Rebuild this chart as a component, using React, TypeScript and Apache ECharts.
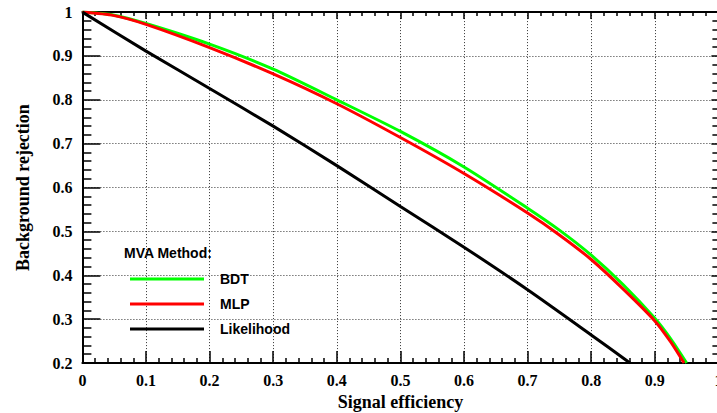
import React, { useEffect, useRef } from "react";
import * as echarts from "echarts";

const seriesNames = ["BDT", "MLP", "Likelihood"];
const seriesColors = ["#00ff00", "#ff0000", "#000000"];

const bdtEff = [0, 0.05, 0.1, 0.2, 0.3, 0.4, 0.5, 0.6, 0.7, 0.75, 0.8, 0.85, 0.9, 0.925, 0.95];
const bdtRej = [1, 0.993, 0.974, 0.927, 0.87, 0.8, 0.728, 0.647, 0.553, 0.503, 0.446, 0.379, 0.302, 0.255, 0.2];

const mlpEff = [0, 0.05, 0.1, 0.2, 0.3, 0.4, 0.5, 0.6, 0.7, 0.75, 0.8, 0.85, 0.9, 0.925, 0.946];
const mlpRej = [1, 0.992, 0.972, 0.919, 0.859, 0.791, 0.714, 0.632, 0.542, 0.492, 0.436, 0.369, 0.296, 0.248, 0.2];

const likEff = [0, 0.1, 0.2, 0.3, 0.4, 0.5, 0.6, 0.7, 0.8, 0.861];
const likRej = [1, 0.911, 0.826, 0.74, 0.65, 0.557, 0.464, 0.367, 0.264, 0.2];

const xTickLabels = ["0", "0.1", "0.2", "0.3", "0.4", "0.5", "0.6", "0.7", "0.8", "0.9", "1"];
const yTickLabels = ["0.2", "0.3", "0.4", "0.5", "0.6", "0.7", "0.8", "0.9", "1"];

const xTitle = "Signal efficiency";
const yTitle = "Background rejection";
const legendTitle = "MVA Method:";

const serif = "Liberation Serif";
const sans = "Liberation Sans";

function pairs(xs: number[], ys: number[]) {
  return xs.map((x, i) => [x, ys[i]]);
}

export default function App() {
  const ref = useRef<HTMLDivElement>(null);
  useEffect(() => {
    const chart = echarts.init(ref.current!, null, { renderer: "svg" });
    const tickLine = { color: "#000", width: 1.5 };
    const axisLine = { show: true, onZero: false, lineStyle: { color: "#000", width: 2 } };
    const labelStyle = { color: "#000", fontFamily: serif, fontWeight: "bold", fontSize: 16 };
    const titleStyle = { color: "#000", fontFamily: serif, fontWeight: "bold", fontSize: 18 };
    const dataSets = [pairs(bdtEff, bdtRej), pairs(mlpEff, mlpRej), pairs(likEff, likRej)];

    chart.setOption({
      animation: false,
      backgroundColor: "#ffffff",
      grid: {
        left: 82.4,
        right: -1.4,
        top: 12.1,
        bottom: 50,
        containLabel: false,
        outerBoundsMode: "none",
      },
      legend: {
        show: true,
        data: seriesNames,
        orient: "vertical",
        left: 125,
        top: 267,
        padding: 5,
        itemGap: 11,
        itemWidth: 74,
        itemHeight: 3,
        icon: "rect",
        selectedMode: false,
        textStyle: {
          color: "#000",
          fontFamily: sans,
          fontWeight: "bold",
          fontSize: 14,
          lineHeight: 14,
          padding: [0, 0, 0, 11],
        },
      },
      graphic: [
        {
          type: "text",
          left: 124,
          top: 246,
          style: { text: legendTitle, fill: "#000", font: `bold 14px "${sans}"` },
        },
      ],
      xAxis: [
        {
          type: "value",
          position: "bottom",
          min: 0,
          max: 1,
          interval: 0.1,
          axisLine,
          axisTick: { show: true, inside: true, length: 12, lineStyle: tickLine },
          minorTick: { show: true, splitNumber: 5, length: 5, lineStyle: tickLine },
          splitLine: { show: true, lineStyle: { color: "#333", type: [1, 2], width: 1 } },
          axisLabel: {
            ...labelStyle,
            margin: 9,
            showMinLabel: true,
            showMaxLabel: true,
            hideOverlap: false,
            formatter: (_v: number, i: number) => xTickLabels[i] ?? "",
          },
          name: xTitle,
          nameLocation: "middle",
          nameGap: 30,
          nameTextStyle: titleStyle,
        },
        {
          type: "value",
          position: "top",
          min: 0,
          max: 1,
          interval: 0.1,
          axisLine,
          axisTick: { show: true, inside: true, length: 7, lineStyle: tickLine },
          minorTick: { show: true, splitNumber: 5, length: 4, lineStyle: tickLine },
          splitLine: { show: false },
          axisLabel: { show: false },
        },
      ],
      yAxis: [
        {
          type: "value",
          position: "left",
          min: 0.2,
          max: 1,
          interval: 0.1,
          axisLine,
          axisTick: { show: true, inside: true, length: 18, lineStyle: tickLine },
          minorTick: { show: true, splitNumber: 5, length: 9, lineStyle: tickLine },
          splitLine: { show: true, lineStyle: { color: "#333", type: [1, 2], width: 1 } },
          axisLabel: {
            ...labelStyle,
            margin: 10,
            showMinLabel: true,
            showMaxLabel: true,
            formatter: (_v: number, i: number) => yTickLabels[i] ?? "",
          },
          name: yTitle,
          nameLocation: "middle",
          nameGap: 50,
          nameTextStyle: titleStyle,
        },
        {
          type: "value",
          position: "right",
          min: 0.2,
          max: 1,
          interval: 0.1,
          axisLine,
          axisTick: { show: true, inside: true, length: 7, lineStyle: tickLine },
          minorTick: { show: true, splitNumber: 5, length: 6, lineStyle: tickLine },
          splitLine: { show: false },
          axisLabel: { show: false },
        },
      ],
      series: seriesNames.map((name, i) => ({
        name,
        type: "line",
        xAxisIndex: 0,
        yAxisIndex: 0,
        data: dataSets[i],
        smooth: 0.25,
        showSymbol: false,
        symbol: "none",
        color: seriesColors[i],
        lineStyle: { color: seriesColors[i], width: 3 },
        z: 3,
      })),
    });
    return () => chart.dispose();
  }, []);
  return (
    <div
      ref={ref}
      style={{ position: "fixed", left: 0, top: 0, width: 717, height: 413, background: "#fff" }}
    />
  );
}
